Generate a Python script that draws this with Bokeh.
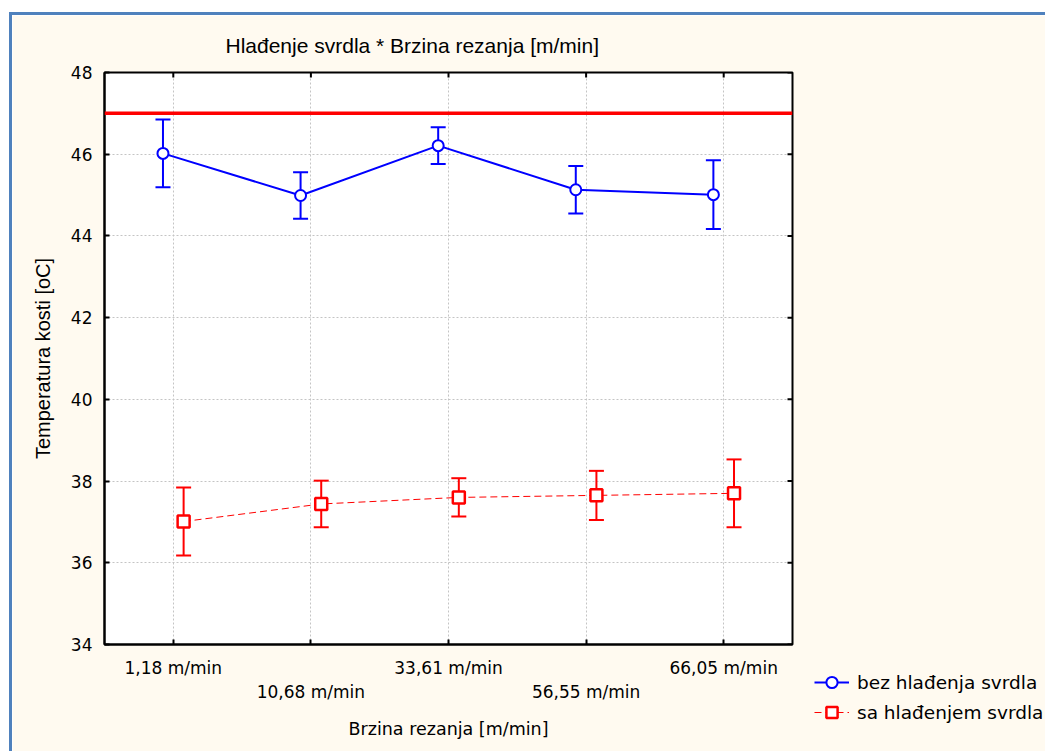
import math
from bokeh.plotting import figure
from bokeh.models import (Range1d, FixedTicker, LinearAxis, Span, Whisker, TeeHead,
                          ColumnDataSource, Legend, LegendItem)
from bokeh.embed import file_html
from bokeh.resources import INLINE

# ---- data ----
categories = ["1,18 m/min", "10,68 m/min", "33,61 m/min", "56,55 m/min", "66,05 m/min"]
series_names = ["bez hlađenja svrdla", "sa hlađenjem svrdla"]
bez_mean = [46.02, 44.99, 46.21, 45.13, 45.01]
bez_err = [0.83, 0.57, 0.45, 0.58, 0.84]
sa_mean = [37.01, 37.44, 37.60, 37.65, 37.70]
sa_err = [0.83, 0.57, 0.47, 0.60, 0.83]
reference_level = 47.0
y_ticks = [34, 36, 38, 40, 42, 44, 46, 48]
title_text = "Hlađenje svrdla * Brzina rezanja [m/min]"
x_title = "Brzina rezanja [m/min]"
y_title = "Temperatura kosti [oC]"

BLUE = "#0000FF"
RED = "#FF0000"
BG = "#FFFAF0"

x = list(range(1, len(categories) + 1))
off = 0.075
xb = [v - off for v in x]
xs = [v + off for v in x]

x_rng = Range1d(0.5, len(categories) + 0.5)
y_rng = Range1d(y_ticks[0], y_ticks[-1])

p = figure(frame_width=688, frame_height=572, x_range=x_rng, y_range=y_rng,
           output_backend="svg", toolbar_location=None,
           min_border_left=92, min_border_right=0,
           min_border_top=57, min_border_bottom=110,
           background_fill_color="white", border_fill_color=BG)
p.styles = {"margin-top": "12px", "margin-left": "9px",
            "border-top": "3px solid #4F81BD", "border-left": "3px solid #4F81BD"}

p.outline_line_color = "black"
p.outline_line_width = 2

# grids
p.xgrid.ticker = FixedTicker(ticks=x)
p.ygrid.ticker = FixedTicker(ticks=y_ticks)
for g in (p.xgrid, p.ygrid):
    g.grid_line_color = "#C4C4C4"
    g.grid_line_dash = "2 2"
    g.grid_line_width = 1

# title
p.title.text = title_text
p.title.text_font = "Liberation Sans"
p.title.text_font_size = "21px"
p.title.text_font_style = "normal"
p.title.text_color = "black"
p.title.align = "left"
p.title.offset = 121
p.title.standoff = 31

# bottom axis (odd labels)
xa = p.xaxis[0]
xa.ticker = FixedTicker(ticks=x)
xa.major_label_overrides = {v: (categories[i] if i % 2 == 0 else "") for i, v in enumerate(x)}
xa.major_tick_in = 5
xa.major_tick_out = 0
xa.minor_tick_line_color = None
xa.axis_line_width = 2
xa.major_tick_line_width = 2
xa.major_label_standoff = 13
xa.major_label_text_font = "DejaVu Sans"
xa.major_label_text_font_size = "17px"
xa.major_label_text_color = "black"

# second bottom axis (even labels, staggered)
xa2 = LinearAxis(ticker=FixedTicker(ticks=[v for i, v in enumerate(x) if i % 2 == 1]),
                 major_label_overrides={v: categories[i] for i, v in enumerate(x) if i % 2 == 1},
                 axis_line_color=None, major_tick_line_color=None, minor_tick_line_color=None,
                 major_tick_in=0, major_tick_out=0, major_label_standoff=1,
                 major_label_text_font="DejaVu Sans", major_label_text_font_size="17px",
                 major_label_text_color="black",
                 axis_label=x_title, axis_label_standoff=14,
                 axis_label_text_font="DejaVu Sans", axis_label_text_font_size="17.5px",
                 axis_label_text_font_style="normal", axis_label_text_color="black")
p.add_layout(xa2, "below")

# left axis
ya = p.yaxis[0]
ya.ticker = FixedTicker(ticks=y_ticks)
ya.major_tick_in = 5
ya.major_tick_out = 0
ya.minor_tick_line_color = None
ya.axis_line_width = 2
ya.major_tick_line_width = 2
ya.major_label_standoff = 12
ya.major_label_text_font = "DejaVu Sans"
ya.major_label_text_font_size = "17px"
ya.major_label_text_color = "black"
ya.axis_label = y_title
ya.axis_label_text_font = "Liberation Sans"
ya.axis_label_text_font_size = "20px"
ya.axis_label_text_font_style = "normal"
ya.axis_label_text_color = "black"
ya.axis_label_standoff = 14

# inward tick marks on the top and right frame edges (clipped half of a dash marker)
p.scatter(x=x, y=[y_rng.end] * len(x), marker="dash", angle=math.pi / 2, size=10,
          line_color="black", line_width=2)
p.scatter(x=[x_rng.end] * len(y_ticks), y=y_ticks, marker="dash", size=10,
          line_color="black", line_width=2)

# reference line
p.add_layout(Span(location=reference_level, dimension="width", line_color=RED, line_width=3.5))

# error bars
src_b = ColumnDataSource(dict(x=xb, y=bez_mean,
                              upper=[m + e for m, e in zip(bez_mean, bez_err)],
                              lower=[m - e for m, e in zip(bez_mean, bez_err)]))
src_s = ColumnDataSource(dict(x=xs, y=sa_mean,
                              upper=[m + e for m, e in zip(sa_mean, sa_err)],
                              lower=[m - e for m, e in zip(sa_mean, sa_err)]))
for src, col in ((src_b, BLUE), (src_s, RED)):
    w = Whisker(source=src, base="x", upper="upper", lower="lower", dimension="height",
                line_color=col, line_width=2, level="underlay",
                upper_head=TeeHead(size=15, line_color=col, line_width=2),
                lower_head=TeeHead(size=15, line_color=col, line_width=2))
    p.add_layout(w)

lb = p.line("x", "y", source=src_b, line_color=BLUE, line_width=2)
sb = p.scatter("x", "y", source=src_b, marker="circle", size=11, line_color=BLUE,
               fill_color="white", line_width=2)
ls = p.line("x", "y", source=src_s, line_color=RED, line_width=1, line_dash="7 4")
ss = p.scatter("x", "y", source=src_s, marker="square", size=12, line_color=RED,
               fill_color="white", line_width=2.5)

legend = Legend(items=[LegendItem(label=series_names[0], renderers=[lb, sb]),
                       LegendItem(label=series_names[1], renderers=[ls, ss])],
                location=(22, -82), border_line_color=None, background_fill_alpha=0,
                label_text_font="DejaVu Sans", label_text_font_size="18.5px",
                label_text_color="black",
                glyph_width=35, glyph_height=28, spacing=2, padding=0, margin=0,
                label_standoff=8)
p.add_layout(legend, "right")

open("out.html", "w").write(file_html(p, INLINE))
